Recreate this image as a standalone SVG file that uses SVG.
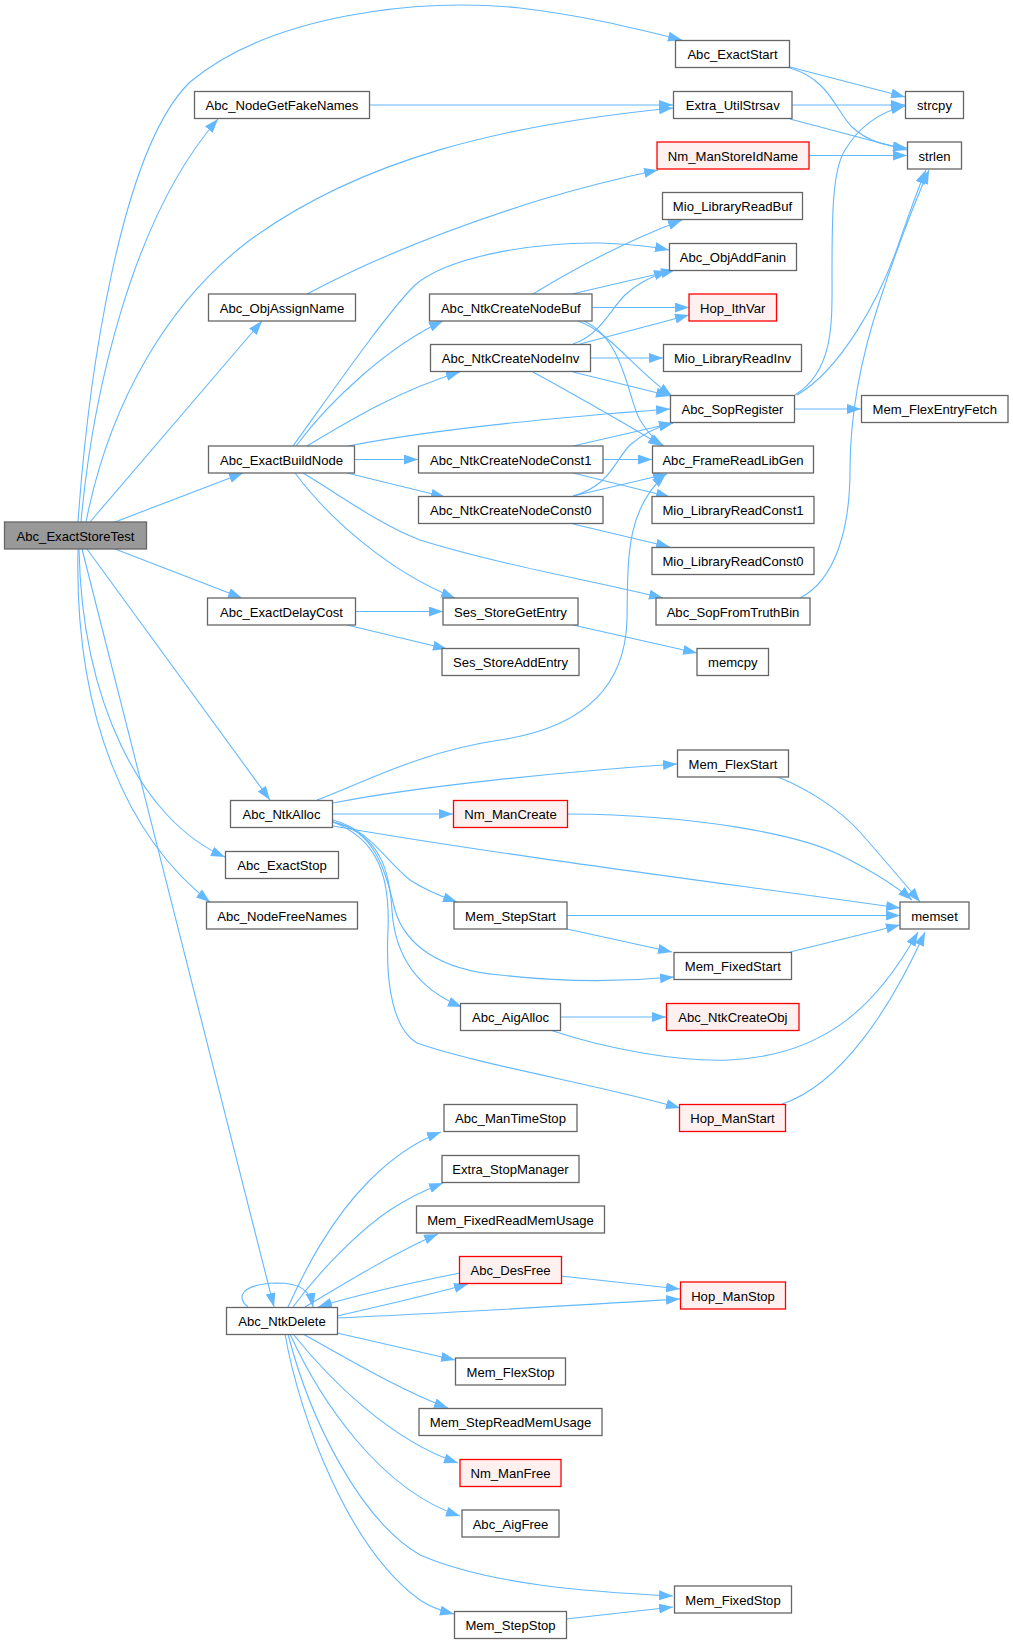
<svg xmlns="http://www.w3.org/2000/svg" width="1013" height="1644" viewBox="0 0 1013 1644">
<style>
.node rect{fill:#ffffff;stroke:#666666;stroke-width:1.3}
.node.root rect{fill:#999999}
.node.red rect{fill:#fff0f0;stroke:#ff0000}
.node text{font-family:"Liberation Sans",Arial,sans-serif;font-size:13.1px;fill:#000000;text-anchor:middle}
.edges path{fill:none;stroke:#63b8ff;stroke-width:1.1;marker-end:url(#arr)}
</style>
<defs>
<marker id="arr" viewBox="0 0 14 10" refX="14" refY="5" markerWidth="14" markerHeight="10" markerUnits="userSpaceOnUse" orient="auto">
<path d="M0,0 L14,5 L0,10 z" fill="#63b8ff" stroke="none"/>
</marker>
</defs>
<rect width="1013" height="1644" fill="#ffffff"/>
<g class="edges" id="edges">
<path d="M78,522 C88,380 120,150 190,82 C270,15 420,-3 520,8 C580,15 630,27 682,40"/>
<path d="M81,522 C92,400 130,220 218,119"/>
<path d="M86,522 C110,400 170,300 250,240 C360,160 500,125 673,108"/>
<path d="M90,522 L262,321"/>
<path d="M115,522 L243,473"/>
<path d="M115,549 L242,598"/>
<path d="M87,549 L270,800"/>
<path d="M79,549 C82,700 140,820 225,857"/>
<path d="M78,549 C74,720 130,840 210,902"/>
<path d="M82,549 L274,1307"/>
<path d="M369,105 L673,105"/>
<path d="M307,294 C380,255 460,225 540,200 C580,188 620,178 658,170"/>
<path d="M790,67 L905,97"/>
<path d="M790,68 C830,80 835,110 852,127 C868,142 887,146 907,148"/>
<path d="M792,105 L905,105"/>
<path d="M790,119 L907,150"/>
<path d="M809,155.5 L907,155.5"/>
<path d="M293,446 C330,395 385,315 415,285 C450,255 540,242 600,243 C630,244 650,246 669,250"/>
<path d="M296,446 C330,400 390,345 443,321"/>
<path d="M307,446 C350,420 400,390 460,372"/>
<path d="M348,446 C420,432 520,420 670,409"/>
<path d="M355,459.5 L418,459.5"/>
<path d="M347,473 L445,497"/>
<path d="M295,473 C330,520 390,572 455,598"/>
<path d="M303,473 C340,495 380,525 420,540 C500,565 590,580 663,598"/>
<path d="M533,294 C580,265 630,240 682,220"/>
<path d="M572,294 L675,270"/>
<path d="M592,307.5 L689,307.5"/>
<path d="M578,321 C610,332 635,370 672,396"/>
<path d="M584,321 C625,340 628,400 640,420 C648,433 655,441 664,446"/>
<path d="M573,344 C600,335 610,310 625,295 C640,281 655,275 668,271"/>
<path d="M580,344 L689,315"/>
<path d="M591,358 L663,358"/>
<path d="M573,372 L670,396"/>
<path d="M533,372 C580,398 620,420 662,446"/>
<path d="M573,446 L673,423"/>
<path d="M603,459.5 L652,459.5"/>
<path d="M573,473 L670,497"/>
<path d="M573,496 C610,486 615,460 630,445 C645,432 660,426 673,423"/>
<path d="M573,496 L667,474"/>
<path d="M573,524 L670,547"/>
<path d="M795,395 C835,370 832,320 832,273 C832,220 832,170 845,150 C860,125 880,112 905,106"/>
<path d="M797,395 C840,370 880,300 900,240 C910,212 918,188 926,170"/>
<path d="M795,409 L861,409"/>
<path d="M800,598 C835,580 850,530 850,470 C850,420 860,360 880,300 C898,245 918,195 929,170"/>
<path d="M356,611.5 L443,611.5"/>
<path d="M347,625 L447,649"/>
<path d="M573,625 L697,653"/>
<path d="M317,800 C370,780 420,752 500,740 C580,728 625,690 627,620 C628,560 625,510 666,474"/>
<path d="M333,803 C420,786 560,772 677,764"/>
<path d="M333,814 L453,814"/>
<path d="M333,826 C500,855 700,880 900,908"/>
<path d="M568,814 C700,815 800,835 840,855 C870,870 895,885 912,900"/>
<path d="M778,777 C810,790 840,810 860,832 C880,855 900,878 920,902"/>
<path d="M333,820 C370,830 385,860 410,880 C425,890 440,896 457,902"/>
<path d="M333,822 C375,830 385,870 395,910 C405,945 440,970 500,975 C560,982 620,982 674,977"/>
<path d="M333,822 C385,835 390,880 392,910 C395,960 420,990 462,1007"/>
<path d="M333,822 C380,840 390,880 388,930 C385,990 395,1030 417,1043 C480,1065 600,1085 680,1108"/>
<path d="M567,915.5 L900,915.5"/>
<path d="M567,929 L672,952"/>
<path d="M790,952 L900,925"/>
<path d="M560,1017 L666,1017"/>
<path d="M550,1030 C610,1050 680,1062 730,1060 C830,1055 880,1000 918,932"/>
<path d="M782,1104 C840,1085 890,1010 925,932"/>
<path d="M288,1307 C305,1270 330,1220 370,1180 C395,1155 420,1140 441,1132"/>
<path d="M293,1307 C320,1270 360,1230 390,1210 C410,1197 425,1190 443,1183"/>
<path d="M305,1307 C350,1280 400,1250 438,1234"/>
<path d="M337,1316 C380,1306 430,1295 468,1284"/>
<path d="M460,1273 C410,1283 360,1294 318,1307"/>
<path d="M337,1318 C450,1313 580,1305 680,1299"/>
<path d="M561,1276 L680,1289"/>
<path d="M248,1307 C236,1298 240,1284 277,1283 C300,1283 310,1290 313,1307"/>
<path d="M337,1333 L455,1360"/>
<path d="M303,1334 C350,1360 400,1390 448,1408"/>
<path d="M293,1334 C330,1380 390,1440 458,1463"/>
<path d="M290,1334 C320,1400 380,1490 460,1516"/>
<path d="M288,1334 C310,1420 360,1520 420,1555 C490,1585 590,1592 673,1596"/>
<path d="M285,1334 C300,1420 350,1550 420,1600 C430,1607 442,1611 454,1614"/>
<path d="M566,1619 L673,1607"/>
</g>
<g id="n_Abc_ExactStoreTest" class="node root"><rect x="4.5" y="522" width="142" height="27"/><text x="75.5" y="540.5">Abc_ExactStoreTest</text></g>
<g id="n_Abc_NodeGetFakeNames" class="node"><rect x="194.5" y="91.5" width="175" height="27"/><text x="282" y="110">Abc_NodeGetFakeNames</text></g>
<g id="n_Abc_ObjAssignName" class="node"><rect x="208.5" y="294" width="147" height="27"/><text x="282" y="312.5">Abc_ObjAssignName</text></g>
<g id="n_Abc_ExactBuildNode" class="node"><rect x="208.5" y="446" width="146" height="27"/><text x="281.5" y="464.5">Abc_ExactBuildNode</text></g>
<g id="n_Abc_ExactDelayCost" class="node"><rect x="207.5" y="598" width="148" height="27"/><text x="281.5" y="616.5">Abc_ExactDelayCost</text></g>
<g id="n_Abc_NtkAlloc" class="node"><rect x="230.5" y="800.5" width="102" height="27"/><text x="281.5" y="819">Abc_NtkAlloc</text></g>
<g id="n_Abc_ExactStop" class="node"><rect x="225.5" y="851.5" width="113" height="27"/><text x="282" y="870">Abc_ExactStop</text></g>
<g id="n_Abc_NodeFreeNames" class="node"><rect x="206.5" y="902" width="151" height="27"/><text x="282" y="920.5">Abc_NodeFreeNames</text></g>
<g id="n_Abc_NtkDelete" class="node"><rect x="226.5" y="1307.5" width="111" height="27"/><text x="282" y="1326">Abc_NtkDelete</text></g>
<g id="n_Abc_NtkCreateNodeBuf" class="node"><rect x="429.5" y="294" width="162.5" height="27"/><text x="510.75" y="312.5">Abc_NtkCreateNodeBuf</text></g>
<g id="n_Abc_NtkCreateNodeInv" class="node"><rect x="430.5" y="344.5" width="160" height="27"/><text x="510.5" y="363">Abc_NtkCreateNodeInv</text></g>
<g id="n_Abc_NtkCreateNodeConst1" class="node"><rect x="418.5" y="446" width="184.5" height="27"/><text x="510.75" y="464.5">Abc_NtkCreateNodeConst1</text></g>
<g id="n_Abc_NtkCreateNodeConst0" class="node"><rect x="418.5" y="496.5" width="184.5" height="27"/><text x="510.75" y="515">Abc_NtkCreateNodeConst0</text></g>
<g id="n_Ses_StoreGetEntry" class="node"><rect x="443" y="598" width="135" height="27"/><text x="510.5" y="616.5">Ses_StoreGetEntry</text></g>
<g id="n_Ses_StoreAddEntry" class="node"><rect x="442" y="648.5" width="137" height="27"/><text x="510.5" y="667">Ses_StoreAddEntry</text></g>
<g id="n_Nm_ManCreate" class="node red"><rect x="453.5" y="800.5" width="114" height="27"/><text x="510.5" y="819">Nm_ManCreate</text></g>
<g id="n_Mem_StepStart" class="node"><rect x="454" y="902" width="113" height="27"/><text x="510.5" y="920.5">Mem_StepStart</text></g>
<g id="n_Abc_AigAlloc" class="node"><rect x="460.5" y="1003.5" width="100" height="27"/><text x="510.5" y="1022">Abc_AigAlloc</text></g>
<g id="n_Abc_ManTimeStop" class="node"><rect x="444" y="1104.5" width="133" height="27"/><text x="510.5" y="1123">Abc_ManTimeStop</text></g>
<g id="n_Extra_StopManager" class="node"><rect x="442" y="1155.5" width="137" height="27"/><text x="510.5" y="1174">Extra_StopManager</text></g>
<g id="n_Mem_FixedReadMemUsage" class="node"><rect x="416.5" y="1206" width="188" height="27"/><text x="510.5" y="1224.5">Mem_FixedReadMemUsage</text></g>
<g id="n_Abc_DesFree" class="node red"><rect x="459.5" y="1256.5" width="102" height="27"/><text x="510.5" y="1275">Abc_DesFree</text></g>
<g id="n_Mem_FlexStop" class="node"><rect x="455.5" y="1358" width="110" height="27"/><text x="510.5" y="1376.5">Mem_FlexStop</text></g>
<g id="n_Mem_StepReadMemUsage" class="node"><rect x="419" y="1408.5" width="183" height="27"/><text x="510.5" y="1427">Mem_StepReadMemUsage</text></g>
<g id="n_Nm_ManFree" class="node red"><rect x="460" y="1459.5" width="101" height="27"/><text x="510.5" y="1478">Nm_ManFree</text></g>
<g id="n_Abc_AigFree" class="node"><rect x="462" y="1510" width="97" height="27"/><text x="510.5" y="1528.5">Abc_AigFree</text></g>
<g id="n_Mem_StepStop" class="node"><rect x="454.5" y="1611.5" width="112" height="27"/><text x="510.5" y="1630">Mem_StepStop</text></g>
<g id="n_Abc_ExactStart" class="node"><rect x="675.5" y="40.5" width="114" height="27"/><text x="732.5" y="59">Abc_ExactStart</text></g>
<g id="n_Extra_UtilStrsav" class="node"><rect x="673.5" y="91.5" width="118.5" height="27"/><text x="732.75" y="110">Extra_UtilStrsav</text></g>
<g id="n_Nm_ManStoreIdName" class="node red"><rect x="657" y="142" width="152" height="27"/><text x="733" y="160.5">Nm_ManStoreIdName</text></g>
<g id="n_Mio_LibraryReadBuf" class="node"><rect x="662.5" y="192.5" width="140" height="27"/><text x="732.5" y="211">Mio_LibraryReadBuf</text></g>
<g id="n_Abc_ObjAddFanin" class="node"><rect x="669.5" y="243.5" width="127" height="27"/><text x="733" y="262">Abc_ObjAddFanin</text></g>
<g id="n_Hop_IthVar" class="node red"><rect x="689" y="294" width="87.5" height="27"/><text x="732.75" y="312.5">Hop_IthVar</text></g>
<g id="n_Mio_LibraryReadInv" class="node"><rect x="663.5" y="344.5" width="138" height="27"/><text x="732.5" y="363">Mio_LibraryReadInv</text></g>
<g id="n_Abc_SopRegister" class="node"><rect x="670.5" y="395.5" width="124" height="27"/><text x="732.5" y="414">Abc_SopRegister</text></g>
<g id="n_Abc_FrameReadLibGen" class="node"><rect x="652.5" y="446" width="161" height="27"/><text x="733" y="464.5">Abc_FrameReadLibGen</text></g>
<g id="n_Mio_LibraryReadConst1" class="node"><rect x="652" y="496.5" width="162" height="27"/><text x="733" y="515">Mio_LibraryReadConst1</text></g>
<g id="n_Mio_LibraryReadConst0" class="node"><rect x="652" y="547.5" width="162" height="27"/><text x="733" y="566">Mio_LibraryReadConst0</text></g>
<g id="n_Abc_SopFromTruthBin" class="node"><rect x="656" y="598" width="154" height="27"/><text x="733" y="616.5">Abc_SopFromTruthBin</text></g>
<g id="n_memcpy" class="node"><rect x="697" y="648.5" width="71.5" height="27"/><text x="732.75" y="667">memcpy</text></g>
<g id="n_Mem_FlexStart" class="node"><rect x="677.5" y="750" width="111" height="27"/><text x="733" y="768.5">Mem_FlexStart</text></g>
<g id="n_Mem_FixedStart" class="node"><rect x="674" y="952.5" width="117.5" height="27"/><text x="732.75" y="971">Mem_FixedStart</text></g>
<g id="n_Abc_NtkCreateObj" class="node red"><rect x="666.5" y="1003.5" width="132.5" height="27"/><text x="732.75" y="1022">Abc_NtkCreateObj</text></g>
<g id="n_Hop_ManStart" class="node red"><rect x="679.5" y="1104.5" width="106" height="27"/><text x="732.5" y="1123">Hop_ManStart</text></g>
<g id="n_Hop_ManStop" class="node red"><rect x="680.5" y="1282" width="105" height="27"/><text x="733" y="1300.5">Hop_ManStop</text></g>
<g id="n_Mem_FixedStop" class="node"><rect x="674.5" y="1586" width="117" height="27"/><text x="733" y="1604.5">Mem_FixedStop</text></g>
<g id="n_strcpy" class="node"><rect x="905.5" y="91.5" width="58" height="27"/><text x="934.5" y="110">strcpy</text></g>
<g id="n_strlen" class="node"><rect x="907.5" y="142" width="54" height="27"/><text x="934.5" y="160.5">strlen</text></g>
<g id="n_Mem_FlexEntryFetch" class="node"><rect x="861.5" y="395.5" width="146.5" height="27"/><text x="934.75" y="414">Mem_FlexEntryFetch</text></g>
<g id="n_memset" class="node"><rect x="900" y="902" width="69" height="27"/><text x="934.5" y="920.5">memset</text></g>
</svg>
